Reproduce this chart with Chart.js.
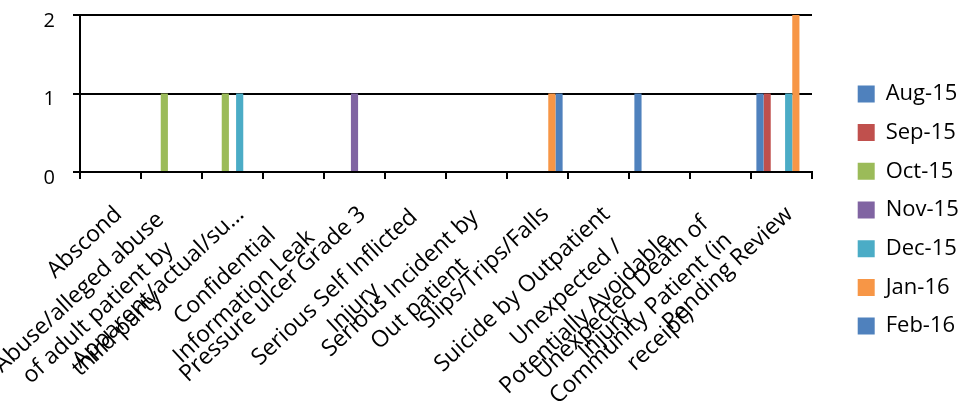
<!DOCTYPE html>
<html>
<head>
<meta charset="utf-8">
<script src="https://cdn.jsdelivr.net/npm/chart.js@4.4.1/dist/chart.umd.min.js"></script>
<style>
  html, body { margin: 0; padding: 0; background: #fff; }
  #wrap { width: 961px; height: 408px; }
</style>
</head>
<body>
<div id="wrap"><canvas id="incidentChart"></canvas></div>
<script>
// category labels, already wrapped the way the sheet shows them
const categories = [
  ['Abscond'],
  ['Abuse/alleged abuse', 'of adult patient by', 'third party'],
  ['Apparent/actual/su…'],
  ['Confidential', 'Information Leak'],
  ['Pressure ulcer Grade 3'],
  ['Serious Self Inflicted', 'Injury'],
  ['Serious Incident by', 'Out patient'],
  ['Slips/Trips/Falls'],
  ['Suicide by Outpatient'],
  ['Unexpected /', 'Potentially Avoidable', 'Injury'],
  ['Unexpected Death of', 'Community Patient (in', 'receipt)'],
  ['Pending Review']
];

const months = ['Aug-15', 'Sep-15', 'Oct-15', 'Nov-15', 'Dec-15', 'Jan-16', 'Feb-16'];

const aug15 = [0, 0, 0, 0, 0, 0, 0, 0, 0, 1, 0, 1];
const sep15 = [0, 0, 0, 0, 0, 0, 0, 0, 0, 0, 0, 1];
const oct15 = [0, 1, 1, 0, 0, 0, 0, 0, 0, 0, 0, 0];
const nov15 = [0, 0, 0, 0, 1, 0, 0, 0, 0, 0, 0, 0];
const dec15 = [0, 0, 1, 0, 0, 0, 0, 0, 0, 0, 0, 1];
const jan16 = [0, 0, 0, 0, 0, 0, 0, 1, 0, 0, 0, 2];
const feb16 = [0, 0, 0, 0, 0, 0, 0, 1, 0, 0, 0, 0];

const yTicks = [0, 1, 2];

const colors = ['#4F81BD', '#C0504D', '#9BBB59', '#8064A2', '#4BACC6', '#F79646', '#4F81BD'];
const series = [aug15, sep15, oct15, nov15, dec15, jan16, feb16];

// excel style rotated labels: lines centred inside the block
const xLabels = {
  id: 'xLabels',
  afterLayout(chart) {
    // push the legend a little further right, like the sheet
    chart.legend.left += 29;
    chart.legend.right += 29;
  },
  afterDraw(chart) {
    const scale = chart.scales.x;
    const ctx = chart.ctx;
    const lh = 28;
    const angle = 43 * Math.PI / 180;
    ctx.save();
    ctx.font = '23px "Open Sans"';
    ctx.fillStyle = '#000';
    ctx.textAlign = 'center';
    ctx.textBaseline = 'middle';
    categories.forEach((lines, i) => {
      const x = scale.getPixelForTick(i);
      const n = lines.length;
      const w = Math.max(...lines.map(l => ctx.measureText(l).width));
      ctx.save();
      ctx.translate(x + 8, scale.top + 39 + (n - 1) * 13);
      ctx.rotate(-angle);
      lines.forEach((line, j) => {
        ctx.fillText(line, -w / 2, (j - (n - 1) / 2) * lh);
      });
      ctx.restore();
    });
    ctx.restore();
  }
};

const ctx = document.getElementById('incidentChart').getContext('2d');

const chart = new Chart(ctx, {
  type: 'bar',
  data: {
    labels: categories,
    datasets: months.map((m, i) => ({
      label: m,
      data: series[i],
      backgroundColor: colors[i],
      borderWidth: 0,
      barPercentage: 1,
      categoryPercentage: 7 / 8.5
    }))
  },
  options: {
    responsive: true,
    maintainAspectRatio: false,
    animation: false,
    layout: { padding: { top: 12 } },
    plugins: {
      tooltip: { enabled: false },
      legend: {
        position: 'right',
        labels: {
          font: { family: 'Open Sans', size: 22 },
          color: '#000',
          boxWidth: 17,
          boxHeight: 17,
          padding: 16.7
        }
      }
    },
    scales: {
      x: {
        offset: true,
        ticks: { display: false },
        grid: {
          offset: true,
          drawOnChartArea: false,
          drawTicks: true,
          tickLength: 7,
          color: '#000',
          lineWidth: 2
        },
        border: { color: '#000', width: 2 },
        afterFit(scale) {
          scale.height = 236;
          scale.paddingRight = 149;
        }
      },
      y: {
        min: 0,
        max: 2,
        afterBuildTicks(scale) {
          scale.ticks = yTicks.map(v => ({ value: v }));
        },
        ticks: {
          font: { family: 'Open Sans', size: 20 },
          color: '#000',
          padding: 18,
          labelOffset: 6
        },
        grid: {
          color: '#000',
          lineWidth: 2,
          drawTicks: true,
          tickLength: 7
        },
        border: { color: '#000', width: 2 },
        afterFit(scale) {
          scale.width = 80;
          scale.paddingTop = 15;
        }
      }
    }
  },
  plugins: [xLabels]
});
</script>
</body>
</html>
